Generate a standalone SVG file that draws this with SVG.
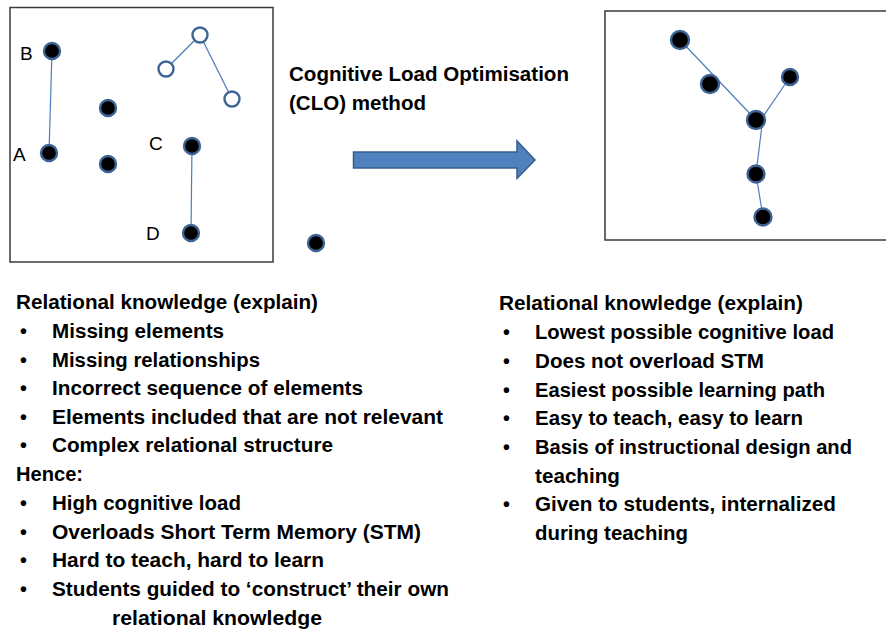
<svg xmlns="http://www.w3.org/2000/svg" width="886" height="629" viewBox="0 0 886 629">
<style>
  .frame{fill:#fff;stroke:#3a3a3a;stroke-width:1.5}
  .dot{fill:#000;stroke:#3d6494;stroke-width:2.4}
  .ring{fill:#fff;stroke:#3d6494;stroke-width:2.4}
  .link{stroke:#4a7ebb;stroke-width:1.2;fill:none}
  .lbl{font-family:"Liberation Sans",Arial,sans-serif;font-size:19px;fill:#000}
  .t{font-family:"Liberation Sans",Arial,sans-serif;font-size:19.5px;font-weight:bold;fill:#000}
</style>
<rect width="886" height="629" fill="#fff"/>

<!-- frames: scattered elements (left) and optimised structure (right) -->
<rect class="frame" x="10" y="7.5" width="263" height="254.5"/>
<rect class="frame" x="605" y="11" width="290" height="229"/>

<g id="connectors">
  <line class="link" x1="52" y1="51" x2="49" y2="153"/>
  <line class="link" x1="192" y1="146" x2="191" y2="233"/>
  <line class="link" x1="166" y1="69" x2="200" y2="35"/>
  <line class="link" x1="200" y1="35" x2="232" y2="99"/>
  <line class="link" x1="680" y1="40" x2="756" y2="120"/>
  <line class="link" x1="790" y1="77" x2="758" y2="124"/>
  <line class="link" x1="762" y1="125" x2="756" y2="174"/>
  <line class="link" x1="756" y1="174" x2="763" y2="217"/>
</g>

<g id="node-B"><circle class="dot" cx="52" cy="51" r="8"/><text class="lbl" x="20" y="60">B</text></g>
<g id="node-A"><circle class="dot" cx="49" cy="153" r="8"/><text class="lbl" x="13" y="161">A</text></g>
<g id="node-m1"><circle class="dot" cx="108" cy="108" r="8"/></g>
<g id="node-m2"><circle class="dot" cx="108" cy="164" r="8"/></g>
<g id="node-C"><circle class="dot" cx="192" cy="146" r="8"/><text class="lbl" x="149" y="150">C</text></g>
<g id="node-D"><circle class="dot" cx="191" cy="233" r="8"/><text class="lbl" x="146" y="240">D</text></g>
<g id="node-o1"><circle class="ring" cx="166" cy="69" r="7.5"/></g>
<g id="node-o2"><circle class="ring" cx="200" cy="35" r="7.5"/></g>
<g id="node-o3"><circle class="ring" cx="232" cy="99" r="7.5"/></g>
<g id="node-lone"><circle class="dot" cx="316" cy="243" r="8"/></g>

<g id="node-r1"><circle class="dot" cx="680" cy="40" r="9"/></g>
<g id="node-r2"><circle class="dot" cx="710" cy="84" r="9"/></g>
<g id="node-r3"><circle class="dot" cx="790" cy="77" r="8"/></g>
<g id="node-r4"><circle class="dot" cx="756" cy="120" r="9"/></g>
<g id="node-r5"><circle class="dot" cx="756" cy="174" r="8.5"/></g>
<g id="node-r6"><circle class="dot" cx="763" cy="217" r="8.5"/></g>

<g id="method">
  <text class="t" x="289" y="81" textLength="280" lengthAdjust="spacingAndGlyphs">Cognitive Load Optimisation</text>
  <text class="t" x="289" y="109.5" textLength="137" lengthAdjust="spacingAndGlyphs">(CLO) method</text>
  <path d="M353.5,152 H517 V141 L535,160 L517,178.5 V168 H353.5 Z" fill="#4f81bd" stroke="#385d8a" stroke-width="1.5"/>
</g>

<g id="list-left">
  <text class="t" x="16" y="308.5" textLength="302" lengthAdjust="spacingAndGlyphs">Relational knowledge (explain)</text>
  <text class="t" x="20" y="337.5">•</text><text class="t" x="52" y="337.5" textLength="172" lengthAdjust="spacingAndGlyphs">Missing elements</text>
  <text class="t" x="20" y="366.5">•</text><text class="t" x="52" y="366.5" textLength="208" lengthAdjust="spacingAndGlyphs">Missing relationships</text>
  <text class="t" x="20" y="395">•</text><text class="t" x="52" y="395" textLength="311" lengthAdjust="spacingAndGlyphs">Incorrect sequence of elements</text>
  <text class="t" x="20" y="423.5">•</text><text class="t" x="52" y="423.5" textLength="391" lengthAdjust="spacingAndGlyphs">Elements included that are not relevant</text>
  <text class="t" x="20" y="452">•</text><text class="t" x="52" y="452" textLength="281" lengthAdjust="spacingAndGlyphs">Complex relational structure</text>
  <text class="t" x="16" y="481" textLength="67" lengthAdjust="spacingAndGlyphs">Hence:</text>
  <text class="t" x="20" y="509.5">•</text><text class="t" x="52" y="509.5" textLength="189" lengthAdjust="spacingAndGlyphs">High cognitive load</text>
  <text class="t" x="20" y="538.5">•</text><text class="t" x="52" y="538.5" textLength="369" lengthAdjust="spacingAndGlyphs">Overloads Short Term Memory (STM)</text>
  <text class="t" x="20" y="567">•</text><text class="t" x="52" y="567" textLength="272" lengthAdjust="spacingAndGlyphs">Hard to teach, hard to learn</text>
  <text class="t" x="20" y="596">•</text><text class="t" x="52" y="596" textLength="397" lengthAdjust="spacingAndGlyphs">Students guided to ‘construct’ their own</text>
  <text class="t" x="112" y="624.5" textLength="210" lengthAdjust="spacingAndGlyphs">relational knowledge</text>
</g>

<g id="list-right">
  <text class="t" x="499" y="310" textLength="304" lengthAdjust="spacingAndGlyphs">Relational knowledge (explain)</text>
  <text class="t" x="503" y="339">•</text><text class="t" x="535" y="339" textLength="299" lengthAdjust="spacingAndGlyphs">Lowest possible cognitive load</text>
  <text class="t" x="503" y="368">•</text><text class="t" x="535" y="368" textLength="229" lengthAdjust="spacingAndGlyphs">Does not overload STM</text>
  <text class="t" x="503" y="396.5">•</text><text class="t" x="535" y="396.5" textLength="290" lengthAdjust="spacingAndGlyphs">Easiest possible learning path</text>
  <text class="t" x="503" y="425">•</text><text class="t" x="535" y="425" textLength="268" lengthAdjust="spacingAndGlyphs">Easy to teach, easy to learn</text>
  <text class="t" x="503" y="453.5">•</text><text class="t" x="535" y="453.5" textLength="317" lengthAdjust="spacingAndGlyphs">Basis of instructional design and</text>
  <text class="t" x="535" y="482.5" textLength="85" lengthAdjust="spacingAndGlyphs">teaching</text>
  <text class="t" x="503" y="511">•</text><text class="t" x="535" y="511" textLength="301" lengthAdjust="spacingAndGlyphs">Given to students, internalized</text>
  <text class="t" x="535" y="539.5" textLength="153" lengthAdjust="spacingAndGlyphs">during teaching</text>
</g>
</svg>
